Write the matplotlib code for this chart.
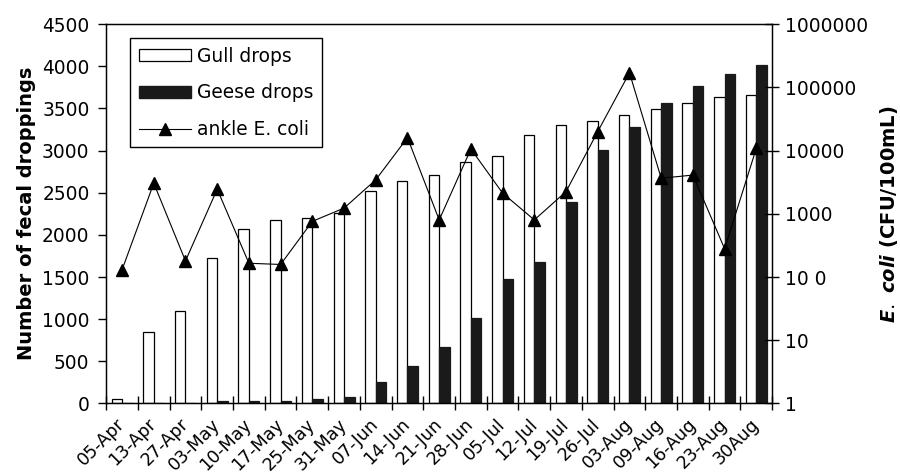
import numpy as np
import matplotlib
matplotlib.use("Agg")
import matplotlib.pyplot as plt
from matplotlib.lines import Line2D
from matplotlib.patches import Patch

plt.rcParams["font.family"] = ["DejaVu Sans"]
plt.rcParams["mathtext.fontset"] = "custom"
plt.rcParams["mathtext.it"] = "DejaVu Sans:italic:bold"

dates = ["05-Apr", "13-Apr", "27-Apr", "03-May", "10-May", "17-May", "25-May",
         "31-May", "07-Jun", "14-Jun", "21-Jun", "28-Jun", "05-Jul", "12-Jul",
         "19-Jul", "26-Jul", "03-Aug", "09-Aug", "16-Aug", "23-Aug", "30Aug"]

gull = [50, 850, 1100, 1720, 2065, 2180, 2205, 2255, 2525, 2640, 2705,
        2870, 2940, 3190, 3305, 3350, 3420, 3490, 3560, 3630, 3655]

geese = [0, 0, 0, 25, 25, 25, 50, 75, 255, 440, 670,
         1010, 1475, 1680, 2395, 3010, 3285, 3560, 3765, 3905, 4015]

ecoli = [130, 3050, 180, 2450, 165, 158, 760, 1230, 3450, 16000, 800,
         10600, 2120, 800, 2250, 20000, 170000, 3650, 4100, 280, 10900]

right_ticks = [1, 10, 100, 1000, 10000, 100000, 1000000]
right_labels = ["1", "10", "10 0", "1000", "10000", "100000", "1000000"]

x = np.arange(len(dates))
w = 0.33

fig, ax = plt.subplots(figsize=(9, 4.73), dpi=100)
fig.subplots_adjust(left=0.118, right=0.858, top=0.949, bottom=0.147)

ax.bar(x - w / 2, gull, w, color="white", edgecolor="black", linewidth=0.9)
ax.bar(x + w / 2, geese, w, color="#1a1a1a", edgecolor="#1a1a1a", linewidth=0.9)

ax.set_xlim(-0.5, len(dates) - 0.5)
ax.set_ylim(0, 4500)
ax.set_yticks(np.arange(0, 4501, 500))
ax.tick_params(axis="y", labelsize=13.4, length=6, width=1, pad=6)

# category boundaries get the tick marks, centres get the labels
ax.set_xticks(np.arange(-0.5, len(dates), 1.0))
ax.set_xticklabels([])
ax.tick_params(axis="x", which="major", direction="inout", length=10, width=1)
ax.set_xticks(x, minor=True)
ax.set_xticklabels(dates, minor=True, rotation=45, ha="right", va="center",
                   rotation_mode="anchor", fontsize=12.6)
ax.tick_params(axis="x", which="minor", length=0, pad=13)

ax.set_ylabel("Number of fecal droppings", fontsize=14, fontweight="bold",
              labelpad=4)

for s in ax.spines.values():
    s.set_linewidth(1)

ax2 = ax.twinx()
ax2.set_yscale("log")
ax2.plot(x, ecoli, color="black", linewidth=0.8, marker="^", markersize=9)
ax2.set_ylim(1, 1000000)
ax2.set_yticks(right_ticks)
ax2.set_yticklabels(right_labels)
ax2.yaxis.set_minor_locator(matplotlib.ticker.NullLocator())
ax2.tick_params(axis="y", labelsize=13.4, direction="inout", length=10, width=1,
                pad=4)
ax2.set_ylabel(r"$\it{E.\ coli}$" + " (CFU/100mL)", fontsize=14,
               fontweight="bold", rotation=90, labelpad=7)

handles = [
    Patch(facecolor="white", edgecolor="black", linewidth=0.9, label="Gull drops"),
    Patch(facecolor="#1a1a1a", edgecolor="#1a1a1a", label="Geese drops"),
    Line2D([], [], color="black", linewidth=0.8, marker="^", markersize=9,
           label="ankle E. coli"),
]
leg = ax2.legend(handles=handles, loc="upper left", bbox_to_anchor=(0.036, 0.963),
                 borderaxespad=0, fontsize=13.4, fancybox=False,
                 edgecolor="black", framealpha=1, handlelength=2.8,
                 handleheight=0.6, handletextpad=0.35, borderpad=0.45,
                 labelspacing=0.95)
leg.get_frame().set_linewidth(1)

fig.savefig("out.png", dpi=100)
